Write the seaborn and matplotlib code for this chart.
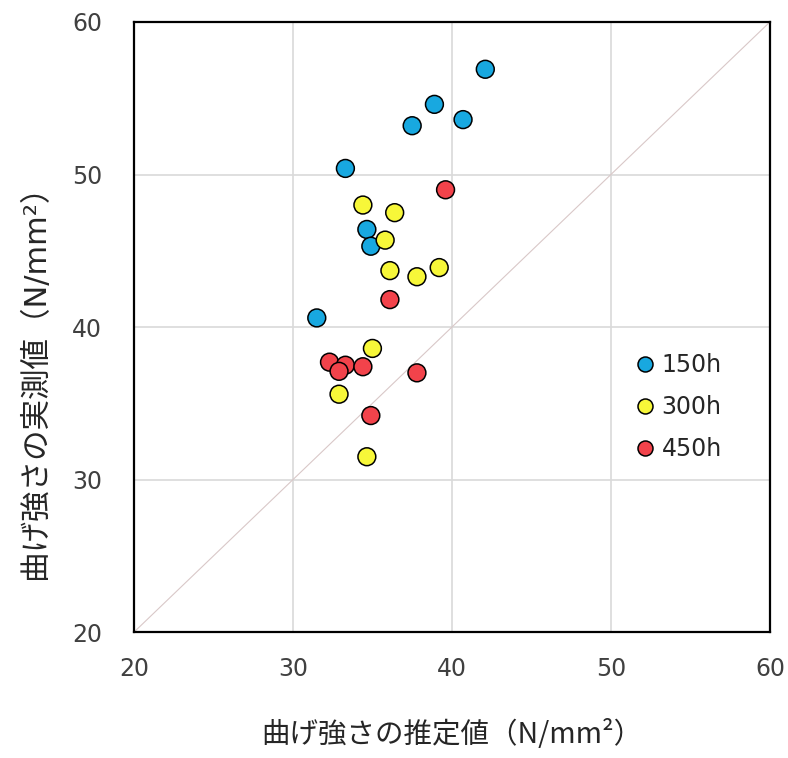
import matplotlib
matplotlib.use("Agg")
import matplotlib.pyplot as plt
import seaborn as sns
import pandas as pd

# Estimated (x) and measured (y) bending strength, N/mm², by curing time
est_150 = [42.1, 38.9, 37.5, 40.7, 33.3, 34.65, 34.9, 31.5]
meas_150 = [56.9, 54.6, 53.2, 53.6, 50.4, 46.4, 45.3, 40.6]
est_300 = [34.4, 36.4, 35.8, 36.1, 37.8, 39.2, 35.0, 32.9, 34.65]
meas_300 = [48.0, 47.5, 45.7, 43.7, 43.3, 43.9, 38.6, 35.6, 31.5]
est_450 = [39.6, 36.1, 32.3, 33.3, 32.9, 34.4, 37.8, 34.9]
meas_450 = [49.0, 41.8, 37.7, 37.5, 37.1, 37.4, 37.0, 34.2]
groups = ["150h", "300h", "450h"]
ticks = [20, 30, 40, 50, 60]

df = pd.concat([
    pd.DataFrame({"est": e, "meas": m, "group": g})
    for e, m, g in zip([est_150, est_300, est_450],
                       [meas_150, meas_300, meas_450], groups)
], ignore_index=True)

sns.set_theme(style="white")
plt.rcParams["font.family"] = ["Noto Sans CJK JP", "DejaVu Sans"]

fig = plt.figure(figsize=(7.88, 7.58), dpi=100)
ax = fig.add_axes([0.170, 0.166, 0.807, 0.805])

# 1:1 reference line
ax.plot([20, 60], [20, 60], color="#d9c8c8", lw=0.8, zorder=1)

palette = {"150h": "#18a8e0", "300h": "#f7f739", "450h": "#f2434b"}
sns.scatterplot(data=df, x="est", y="meas", hue="group", hue_order=groups,
                palette=palette, s=165, edgecolor="black", linewidth=1.1,
                ax=ax, zorder=3)

ax.set_xlim(20, 60)
ax.set_ylim(20, 60)
ax.set_xticks(ticks)
ax.set_yticks(ticks)
ax.grid(True, color="#d9d9d9", lw=1.2)
ax.set_axisbelow(True)
for sp in ax.spines.values():
    sp.set_color("black")
    sp.set_linewidth(1.6)
ax.tick_params(axis="both", labelsize=17, labelcolor="#404040", length=0)
ax.tick_params(axis="x", pad=18)
ax.tick_params(axis="y", pad=23)
for lab in ax.get_xticklabels() + ax.get_yticklabels():
    lab.set_family("DejaVu Sans")

ax.set_xlabel("曲げ強さの推定値（N/mm²）", fontsize=20.5, color="#262626", labelpad=28)
ax.set_ylabel("曲げ強さの実測値（N/mm²）", fontsize=22, color="#262626",
              family=["DejaVu Sans", "Noto Sans CJK JP"])
ax.yaxis.set_label_coords(-0.132, 0.423)

leg = ax.legend(loc="center left", bbox_to_anchor=(0.751, 0.369), frameon=False,
                prop={"family": "DejaVu Sans", "size": 17},
                handlelength=1.0, handletextpad=0.22, labelspacing=0.76,
                markerscale=0.84)
for t in leg.get_texts():
    t.set_color("#262626")

fig.savefig("out.png", dpi=100, facecolor="white")
